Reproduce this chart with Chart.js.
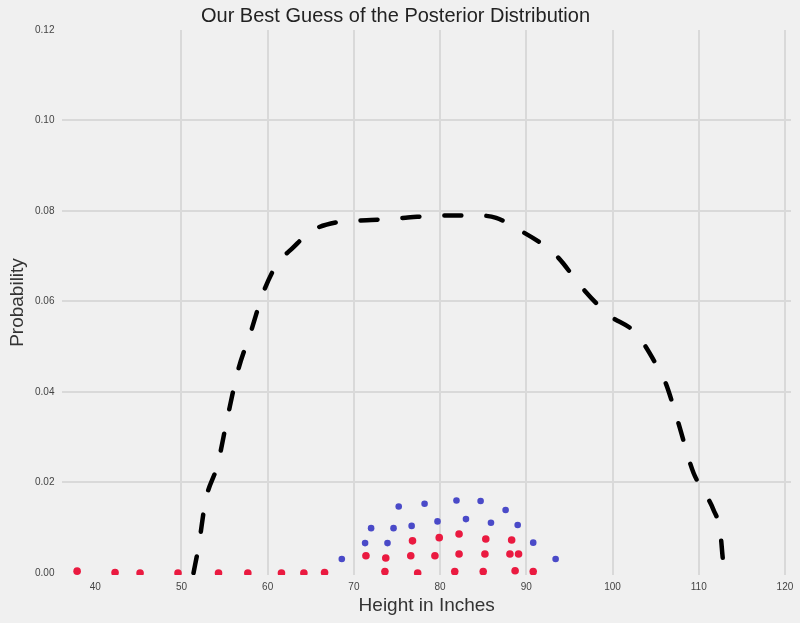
<!DOCTYPE html>
<html>
<head>
<meta charset="utf-8">
<script src="https://cdn.jsdelivr.net/npm/chart.js@4/dist/chart.umd.min.js"></script>
<style>
  html, body { margin: 0; padding: 0; background: #f0f0f0; }
  #wrap { width: 800px; height: 623px; }
</style>
</head>
<body>
<div id="wrap"><canvas id="chart"></canvas></div>
<script>
// posterior guess (dashed curve)
const curveX = [51.4, 52.0, 52.8, 54.2, 55.3, 56.6, 58.0, 59.5, 61.0, 63.0, 65.0, 68.0, 72.0, 76.0, 80.0, 84.0, 86.5, 88.7, 91.9, 93.7, 96.4, 99.5, 102.7, 105.2, 106.2, 107.5, 109.4, 110.7, 111.7, 112.5, 112.8, 113.0];
const curveY = [0.0, 0.006, 0.016, 0.024, 0.034, 0.045, 0.053, 0.062, 0.068, 0.072, 0.0755, 0.0775, 0.078, 0.0785, 0.079, 0.079, 0.0785, 0.0763, 0.0726, 0.0697, 0.0632, 0.0571, 0.053, 0.0456, 0.0418, 0.034, 0.0221, 0.0177, 0.014, 0.009, 0.003, 0.0];

// red samples
const redX = [37.9, 42.3, 45.2, 49.6, 54.3, 57.7, 61.6, 64.2, 66.6, 71.4, 73.7, 73.6, 76.6, 76.8, 77.4, 79.4, 79.9, 81.7, 82.2, 82.2, 85.0, 85.2, 85.3, 88.1, 88.3, 88.7, 89.1, 90.8];
const redY = [0.0004, 0.0001, 0.0, 0.0, 0.0, 0.0, 0.0, 0.0, 0.0001, 0.0038, 0.0033, 0.0003, 0.0038, 0.0071, 0.0, 0.0038, 0.0078, 0.0003, 0.0042, 0.0086, 0.0003, 0.0042, 0.0075, 0.0042, 0.0073, 0.0005, 0.0042, 0.0003];

// blue samples
const blueX = [68.6, 71.3, 72.0, 73.9, 74.6, 75.2, 76.7, 78.2, 79.7, 81.9, 83.0, 84.7, 85.9, 87.6, 89.0, 90.8, 93.4];
const blueY = [0.0031, 0.0066, 0.0099, 0.0066, 0.0099, 0.0147, 0.0104, 0.0153, 0.0114, 0.016, 0.0119, 0.0159, 0.0111, 0.0139, 0.0106, 0.0067, 0.0031];

const toPts = (xs, ys) => xs.map((x, i) => ({ x, y: ys[i] }));

const GRID = '#d9d9d9';
const TXT = '#444';
const NONE = 'rgba(0,0,0,0)';
Chart.defaults.font.family = "'Liberation Sans', Arial, sans-serif";

new Chart(document.getElementById('chart'), {
  type: 'scatter',
  data: {
    datasets: [
      {
        type: 'line',
        data: toPts(curveX, curveY),
        borderColor: '#000',
        borderWidth: 4.5,
        borderDash: [17, 25],
        borderCapStyle: 'round',
        cubicInterpolationMode: 'monotone',
        pointRadius: 0,
        fill: false,
        order: 1,
      },
      {
        data: toPts(blueX, blueY),
        backgroundColor: '#4a4ac8',
        borderWidth: 0,
        pointRadius: 3.3,
        order: 2,
      },
      {
        data: toPts(redX, redY),
        backgroundColor: '#ea1a40',
        borderWidth: 0,
        pointRadius: 3.8,
        order: 3,
      },
    ],
  },
  options: {
    responsive: true,
    maintainAspectRatio: false,
    animation: false,
    layout: { padding: { top: 0, right: 9, bottom: 0, left: 0 } },
    plugins: {
      legend: { display: false },
      tooltip: { enabled: false },
      title: {
        display: true,
        text: 'Our Best Guess of the Posterior Distribution',
        color: '#222',
        font: { size: 20, weight: 'normal' },
        padding: { top: 4, bottom: 2 },
      },
    },
    scales: {
      x: {
        type: 'linear',
        min: 36.2,
        max: 120.7,
        border: { display: false },
        grid: {
          color: (c) => (c.tick && c.tick.value === 40 ? NONE : GRID),
          lineWidth: 2,
          drawTicks: false,
        },
        ticks: {
          stepSize: 10,
          includeBounds: false,
          color: TXT,
          font: { size: 10 },
          padding: 6,
          callback: (v) => v,
        },
        title: {
          display: true,
          text: 'Height in Inches',
          color: '#333',
          font: { size: 19, lineHeight: 1 },
          padding: { top: -3, bottom: 8 },
        },
      },
      y: {
        min: -0.00045,
        max: 0.12,
        border: { display: false },
        grid: {
          color: (c) => (c.tick && (c.tick.value === 0 || Math.abs(c.tick.value - 0.12) < 1e-9) ? NONE : GRID),
          lineWidth: 2,
          drawTicks: false,
        },
        ticks: {
          stepSize: 0.02,
          includeBounds: false,
          color: TXT,
          font: { size: 10 },
          padding: 8,
          callback: (v) => Number(v).toFixed(2),
        },
        title: {
          display: true,
          text: 'Probability',
          color: '#333',
          font: { size: 19, lineHeight: 1 },
          padding: { top: 8, bottom: 0 },
        },
      },
    },
  },
  plugins: [{
    id: 'bg',
    beforeDraw: (ch) => {
      const c = ch.ctx;
      c.save();
      c.fillStyle = '#f0f0f0';
      c.fillRect(0, 0, ch.width, ch.height);
      c.restore();
    },
  }],
});
</script>
</body>
</html>
